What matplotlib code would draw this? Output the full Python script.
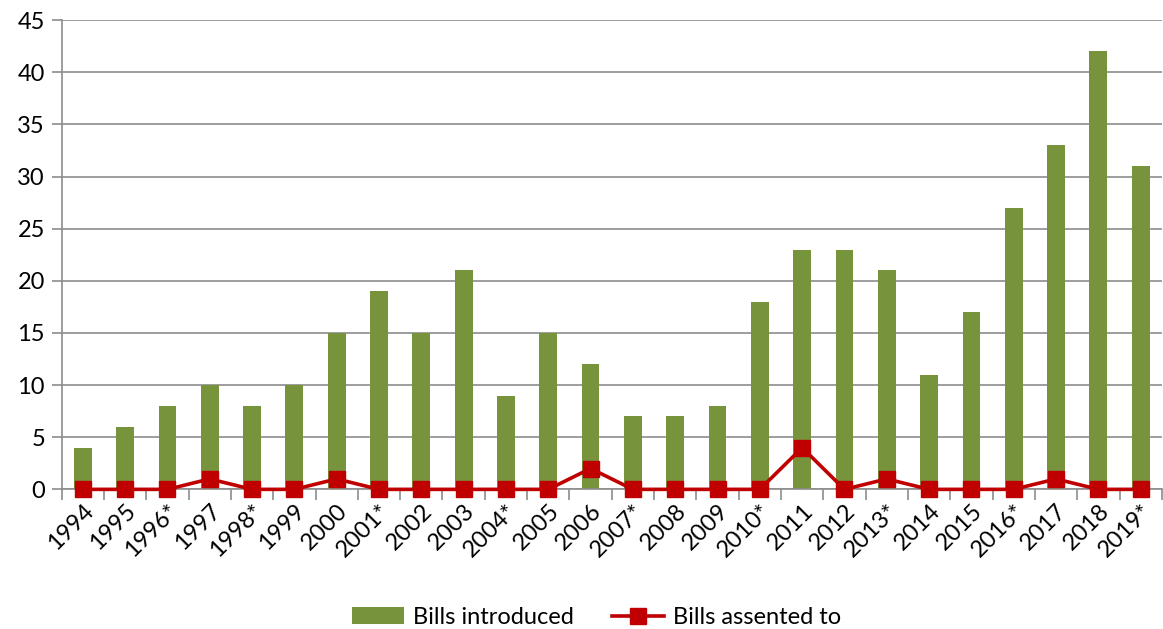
import numpy as np
import matplotlib.pyplot as plt

plt.rcParams['font.family'] = ['Lato', 'DejaVu Sans']

years = ['1994', '1995', '1996*', '1997', '1998*', '1999', '2000', '2001*', '2002',
         '2003', '2004*', '2005', '2006', '2007*', '2008', '2009', '2010*', '2011',
         '2012', '2013*', '2014', '2015', '2016*', '2017', '2018', '2019*']
introduced = [4, 6, 8, 10, 8, 10, 15, 19, 15, 21, 9, 15, 12, 7, 7, 8, 18, 23,
              23, 21, 11, 17, 27, 33, 42, 31]
assented = [0, 0, 0, 1, 0, 0, 1, 0, 0, 0, 0, 0, 2, 0, 0, 0, 0, 4,
            0, 1, 0, 0, 0, 1, 0, 0]

green = '#77933C'
red = '#C00000'
grid_c = '#8C8C8C'

fig, ax = plt.subplots(figsize=(11.63, 6.29), dpi=100)
fig.subplots_adjust(left=0.053, right=0.999, top=0.968, bottom=0.222)

x = np.arange(len(years))
bars = ax.bar(x, introduced, width=0.42, color=green, label='Bills introduced', zorder=2)
line, = ax.plot(x, assented, color=red, lw=2.6, marker='s', markersize=11,
                label='Bills assented to', zorder=3, clip_on=False)

ax.set_xlim(-0.5, len(years) - 0.5)
ax.set_ylim(0, 45)
ax.set_yticks(np.arange(0, 46, 5))
ax.yaxis.grid(True, color=grid_c, lw=1.2, zorder=0)
ax.set_axisbelow(True)

ax.set_xticks(x)
ax.set_xticklabels(years, rotation=45, ha='right', rotation_mode='anchor', fontsize=17)
ax.tick_params(axis='x', length=0, pad=8)
ax.set_xticks(np.arange(-0.5, len(years)), minor=True)
ax.tick_params(axis='x', which='minor', length=8, color=grid_c, width=1.2)
ax.tick_params(axis='y', length=7, color=grid_c, width=1.2, labelsize=17, pad=5)

for s in ['top', 'right']:
    ax.spines[s].set_visible(False)
ax.spines['left'].set_color(grid_c)
ax.spines['left'].set_linewidth(1.2)
ax.spines['bottom'].set_color(grid_c)
ax.spines['bottom'].set_linewidth(1.2)

ax.legend([bars, line], ['Bills introduced', 'Bills assented to'], loc='center',
          bbox_to_anchor=(0.486, -0.273), ncol=2, frameon=False,
          fontsize=17, handlelength=2.2, columnspacing=1.6, handletextpad=0.4)

plt.savefig('out.png', dpi=100)
